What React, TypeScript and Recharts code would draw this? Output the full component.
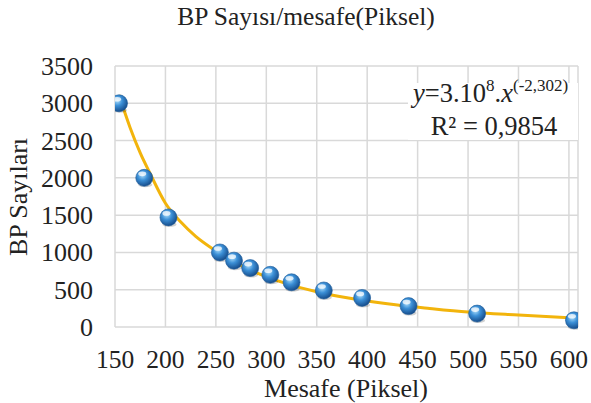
import React from 'react';
import { ScatterChart, Scatter, XAxis, YAxis, CartesianGrid, Customized } from 'recharts';

const pointX = [154, 179, 203, 254, 268, 284, 304, 325, 357, 395, 441, 509, 605];
const pointY = [3000, 2000, 1470, 1000, 890, 790, 700, 600, 490, 390, 280, 180, 90];

const trendX = [154, 165, 175, 185, 200, 215, 230, 250, 270, 290, 320, 350, 380, 420, 460, 500, 550, 600];
const trendY = [3110, 2672, 2334, 2053, 1660, 1410, 1215, 1020, 860, 729, 581, 473, 392, 311, 252, 200, 160, 125];

const xTicks = [150, 200, 250, 300, 350, 400, 450, 500, 550, 600];
const yTicks = [0, 500, 1000, 1500, 2000, 2500, 3000, 3500];

const points = pointX.map((x, i) => ({ x, y: pointY[i] }));
const trend = trendX.map((x, i) => ({ x, y: trendY[i] }));

const FONT = "'Liberation Serif', 'Times New Roman', serif";

const Ball = (props: any) => {
  const { cx, cy } = props;
  if (cx == null || cy == null) return <g />;
  return (
    <g>
      <ellipse cx={cx + 1} cy={cy + 7} rx={7} ry={2.5} fill="rgba(0,0,0,0.18)" />
      <circle cx={cx} cy={cy} r={8.5} fill="url(#ballGrad)" stroke="#1d5a99" strokeWidth={0.6} />
      <ellipse cx={cx - 2} cy={cy - 4} rx={4} ry={2.3} fill="rgba(255,255,255,0.75)" />
    </g>
  );
};

const NoDot = () => <g />;

const XTick = (props: any) => {
  const { x, y, payload } = props;
  return (
    <text x={x} y={y + 24} textAnchor="middle" style={{ fontFamily: FONT }} fontSize={25.5} fill="#222">
      {payload.value}
    </text>
  );
};

const YTick = (props: any) => {
  const { x, y, payload } = props;
  return (
    <text x={x} y={y + 9} textAnchor="end" style={{ fontFamily: FONT }} fontSize={26} fill="#222">
      {payload.value}
    </text>
  );
};

const Decor = () => (
  <g style={{ fontFamily: FONT }}>
    <defs>
      <radialGradient id="ballGrad" cx="40%" cy="35%" r="65%">
        <stop offset="0%" stopColor="#a9dcfb" />
        <stop offset="45%" stopColor="#3b8fd6" />
        <stop offset="100%" stopColor="#164d8c" />
      </radialGradient>
    </defs>
    <text x={306} y={25} textAnchor="middle" fontSize={25.5} fill="#222">
      BP Sayısı/mesafe(Piksel)
    </text>
    <text x={27} y={197} textAnchor="middle" fontSize={26} fill="#222" transform="rotate(-90, 27, 197)">
      BP Sayıları
    </text>
    <text x={346} y={397} textAnchor="middle" fontSize={26} fill="#222">
      Mesafe (Piksel)
    </text>
    <rect x={408} y={83} width={170} height={57} fill="#ffffff" />
    <text x={413} y={102} fontSize={26.5} fill="#222">
      <tspan fontStyle="italic">y</tspan>
      <tspan>=3.10</tspan>
      <tspan fontSize={17} dy={-11}>8</tspan>
      <tspan dy={11}>.</tspan>
      <tspan fontStyle="italic">x</tspan>
      <tspan fontSize={17} dy={-11}>(-2,302)</tspan>
    </text>
    <text x={494} y={135} textAnchor="middle" fontSize={26.5} fill="#222">
      R² = 0,9854
    </text>
  </g>
);

export default function App() {
  return (
    <div style={{ position: 'absolute', left: 0, top: 0, width: 591, height: 403, background: '#fff', fontFamily: FONT }}>
      <ScatterChart width={591} height={403} margin={{ top: 66, right: 13, bottom: 0, left: 0 }}>
        <CartesianGrid stroke="#d9d9d9" strokeWidth={1.5} />
        <XAxis
          type="number"
          dataKey="x"
          domain={[150, 609]}
          ticks={xTicks}
          interval={0}
          allowDataOverflow
          axisLine={false}
          tickLine={false}
          tickSize={0}
          tickMargin={17}
          tick={<XTick />}
          height={76}
        />
        <YAxis
          type="number"
          dataKey="y"
          domain={[0, 3500]}
          ticks={yTicks}
          interval={0}
          axisLine={false}
          tickLine={false}
          tickSize={0}
          tickMargin={22}
          width={115}
          tick={<YTick />}
        />
        <Scatter
          data={trend}
          line={{ stroke: '#f2b40c', strokeWidth: 3 }}
          lineJointType="monotoneX"
          shape={NoDot}
          isAnimationActive={false}
        />
        <Scatter data={points} shape={Ball} isAnimationActive={false} />
        <Customized component={Decor} />
      </ScatterChart>
    </div>
  );
}
